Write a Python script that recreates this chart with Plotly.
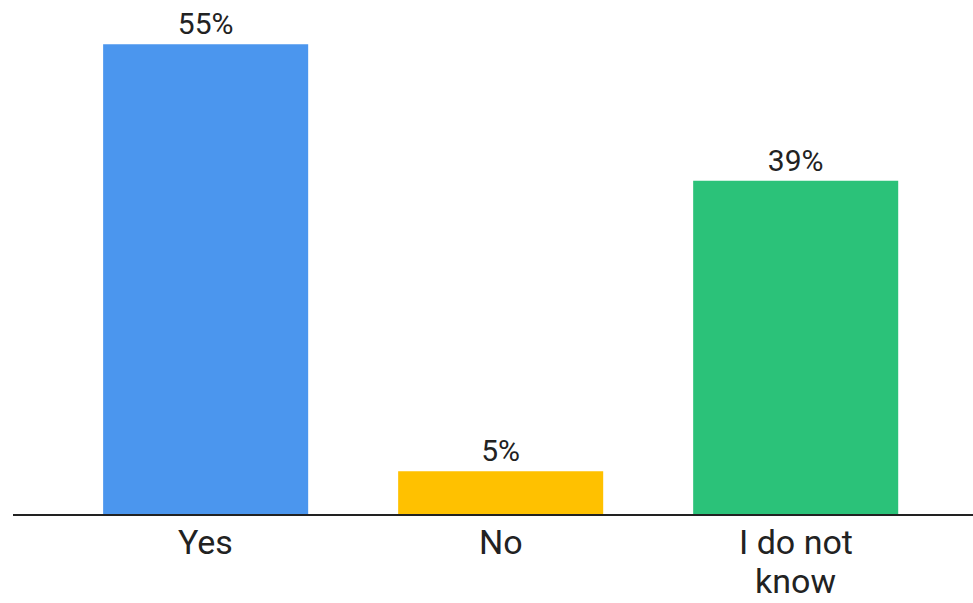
import plotly.graph_objects as go

categories = ["Yes", "No", "I do not know"]
tick_lines = [["Yes"], ["No"], ["I do not", "know"]]
values = [55, 5, 39]
colors = ["#4B96EE", "#FFC100", "#2BC279"]

fig = go.Figure(go.Bar(
    x=categories,
    y=values,
    marker=dict(color=colors, line=dict(width=0)),
    text=[f"{v}%" for v in values],
    textposition="outside",
    textfont=dict(size=30, color="#222222", family="Roboto"),
    cliponaxis=False,
    width=0.695,
))

annotations = []
for cat, lines in zip(categories, tick_lines):
    for i, line in enumerate(lines):
        annotations.append(dict(
            x=cat, y=0, xref="x", yref="y",
            text=line, showarrow=False,
            xanchor="center", yanchor="middle",
            yshift=-28 - 38.5 * i,
            font=dict(size=34, color="#222222", family="Roboto"),
        ))

fig.update_layout(
    width=973, height=603,
    margin=dict(l=13, r=0, t=10, b=89),
    paper_bgcolor="white", plot_bgcolor="white",
    showlegend=False,
    font=dict(family="Roboto", color="#222222"),
    annotations=annotations,
    xaxis=dict(
        range=[-0.653, 2.601],
        automargin=False,
        showline=True, linecolor="#222222", linewidth=2,
        showgrid=False, zeroline=False, ticks="",
        showticklabels=False,
    ),
    yaxis=dict(
        range=[0, 59], visible=False, showgrid=False, zeroline=False,
        automargin=False,
    ),
)

fig.write_html("out.html", config={"displayModeBar": False},
               post_script="document.body.style.margin='0';")
